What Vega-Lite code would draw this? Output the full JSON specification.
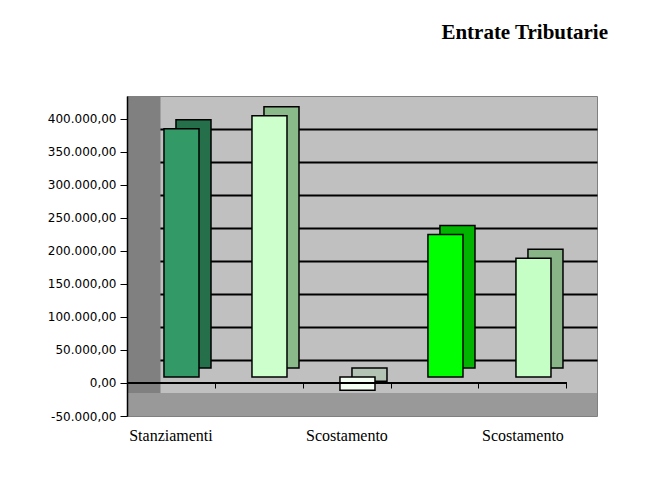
{
  "$schema": "https://vega.github.io/schema/vega-lite/v6.json",
  "width": 470,
  "height": 320,
  "autosize": {"type": "none"},
  "padding": {"left": 127, "top": 96, "right": 51, "bottom": 67},
  "background": "white",
  "title": {
    "text": "Entrate Tributarie",
    "anchor": "end",
    "font": "Liberation Serif",
    "fontSize": 21,
    "fontWeight": "bold",
    "color": "black",
    "baseline": "alphabetic",
    "offset": 36,
    "dx": 11
  },
  "config": {
    "locale": {
      "number": {"decimal": ",", "thousands": ".", "grouping": [3], "currency": ["", " €"], "minus": "-"}
    },
    "view": {"fill": "#C0C0C0", "stroke": "#808080", "strokeWidth": 1}
  },
  "datasets": {
    "voci": [
      {"n": 1, "voce": "Stanziamenti", "importo": 376000},
      {"n": 2, "voce": "Accertamenti", "importo": 396000},
      {"n": 3, "voce": "Scostamento", "importo": -20000},
      {"n": 4, "voce": "Riscossioni", "importo": 216000},
      {"n": 5, "voce": "Scostamento", "importo": 180000}
    ]
  },
  "data": {"name": "voci"},
  "resolve": {
    "scale": {"color": "independent"},
    "axis": {"x": "independent", "y": "independent"}
  },
  "layer": [
    {
      "mark": {"type": "bar", "xOffset": 22.5, "yOffset": -15, "stroke": "black", "strokeWidth": 1.5},
      "encoding": {
        "x": {
          "field": "n",
          "type": "ordinal",
          "scale": {"paddingInner": 0.602, "paddingOuter": 0.4716, "align": 0.319},
          "axis": {
            "orient": "bottom",
            "offset": -33,
            "domain": false,
            "ticks": true,
            "tickColor": "black",
            "tickSize": 5,
            "tickWidth": 1,
            "bandPosition": 1.757,
            "labels": false,
            "grid": false,
            "title": null,
            "zindex": 1
          }
        },
        "y": {
          "field": "importo",
          "type": "quantitative",
          "scale": {"domain": [-50000, 434848], "nice": false, "zero": false},
          "axis": {
            "orient": "left",
            "grid": true,
            "gridColor": "black",
            "gridWidth": 2,
            "values": [0, 50000, 100000, 150000, 200000, 250000, 300000, 350000],
            "tickOffset": -23,
            "domain": false,
            "ticks": false,
            "labels": false,
            "title": null
          }
        },
        "color": {
          "field": "n",
          "type": "ordinal",
          "scale": {"range": ["#256F4A", "#8ABA8A", "#B4C4B4", "#00B400", "#88B488"]},
          "legend": null
        }
      }
    },
    {
      "data": {"values": [{}]},
      "mark": {"type": "rect", "color": "#999999"},
      "encoding": {
        "y": {
          "datum": -50000,
          "type": "quantitative",
          "axis": {
            "orient": "left",
            "offset": -16.5,
            "domain": true,
            "domainColor": "#808080",
            "domainWidth": 33,
            "ticks": false,
            "labels": false,
            "grid": false,
            "title": null
          }
        },
        "y2": {"datum": -15152}
      }
    },
    {
      "mark": {"type": "bar", "xOffset": 10.5, "yOffset": -6, "stroke": "black", "strokeWidth": 1.5},
      "encoding": {
        "x": {
          "field": "n",
          "type": "ordinal",
          "axis": {
            "orient": "bottom",
            "domain": false,
            "ticks": false,
            "labelExpr": "datum.value == 1 ? 'Stanziamenti' : (datum.value == 3 || datum.value == 5) ? 'Scostamento' : ''",
            "labelFont": "Liberation Serif",
            "labelFontSize": 16,
            "labelColor": "black",
            "labelPadding": 11,
            "labelAngle": 0,
            "grid": false,
            "title": null
          }
        },
        "y": {
          "field": "importo",
          "type": "quantitative",
          "axis": {
            "orient": "left",
            "values": [-50000, 0, 50000, 100000, 150000, 200000, 250000, 300000, 350000, 400000],
            "format": ",.2f",
            "labelFont": "DejaVu Sans",
            "labelFontSize": 12,
            "labelColor": "black",
            "labelPadding": 4,
            "tickSize": 7,
            "tickColor": "black",
            "tickWidth": 1,
            "domain": true,
            "domainColor": "black",
            "domainWidth": 1.5,
            "grid": false,
            "title": null,
            "zindex": 1
          }
        },
        "color": {
          "field": "n",
          "type": "ordinal",
          "scale": {"range": ["#339966", "#CCFFCC", "#F2FFF2", "#00FF00", "#C6FFC6"]},
          "legend": null
        }
      }
    },
    {
      "mark": {"type": "tick", "orient": "horizontal", "size": 88, "thickness": 2, "color": "black", "opacity": 1},
      "encoding": {
        "x": {"field": "n", "type": "ordinal", "axis": null},
        "y": {"datum": 0, "type": "quantitative", "axis": null}
      }
    }
  ]
}
